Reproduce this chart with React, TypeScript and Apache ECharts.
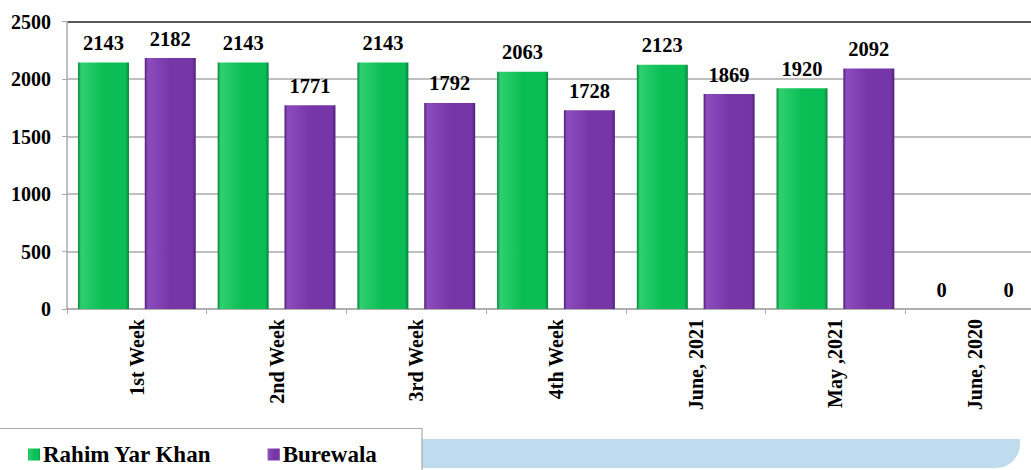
import React, { useEffect, useRef } from "react";
import * as echarts from "echarts";

const categories = ["1st Week", "2nd Week", "3rd Week", "4th Week", "June, 2021", "May ,2021", "June, 2020"];
const rahimYarKhan = [2143, 2143, 2143, 2063, 2123, 1920, 0];
const burewala = [2182, 1771, 1792, 1728, 1869, 2092, 0];
const seriesNames = ["Rahim Yar Khan", "Burewala"];

const FONT = "Liberation Serif";

function barGradient(dark: string, main: string, light: string) {
  return new echarts.graphic.LinearGradient(0, 0, 1, 0, [
    { offset: 0, color: dark },
    { offset: 0.06, color: light },
    { offset: 0.5, color: main },
    { offset: 0.93, color: main },
    { offset: 1, color: dark },
  ]);
}

export default function App() {
  const ref = useRef<HTMLDivElement>(null);
  useEffect(() => {
    document.body.style.margin = "0";
    document.body.style.overflow = "hidden";
    const chart = echarts.init(ref.current!, null, { renderer: "svg" });
    const labelCfg = {
      show: true,
      position: "top",
      distance: 9,
      fontFamily: FONT,
      fontWeight: "bold",
      fontSize: 20.5,
      color: "#000",
    };
    chart.setOption({
      animation: false,
      backgroundColor: "#fff",
      textStyle: { fontFamily: FONT },
      grid: { left: 67, right: -14, top: 21.5, bottom: 161, containLabel: false, outerBoundsMode: "none" },
      legend: {
        left: 28,
        top: 443,
        padding: 0,
        itemWidth: 12,
        itemHeight: 12,
        itemGap: 56,
        icon: "rect",
        textStyle: { fontFamily: FONT, fontWeight: "bold", fontSize: 23, color: "#000", padding: [0, 0, 0, -2] },
        data: seriesNames,
      },
      xAxis: {
        type: "category",
        data: categories,
        axisLine: { show: true, lineStyle: { color: "#aaa", width: 1.5 } },
        axisTick: { show: true, length: 5, lineStyle: { color: "#aaa" } },
        axisLabel: {
          rotate: 90,
          margin: 10,
          fontFamily: FONT,
          fontWeight: "bold",
          fontSize: 20,
          color: "#000",
          interval: 0,
        },
      },
      yAxis: {
        type: "value",
        min: 0,
        max: 2500,
        interval: 500,
        axisLine: { show: true, lineStyle: { color: "#aaa", width: 1.5 } },
        axisTick: { show: true, length: 5, lineStyle: { color: "#aaa" } },
        axisLabel: {
          margin: 16,
          fontFamily: FONT,
          fontWeight: "bold",
          fontSize: 20,
          color: "#000",
          formatter: (v: number) => String(v),
        },
        splitLine: {
          show: true,
          lineStyle: { color: ["#aaa", "#aaa", "#aaa", "#aaa", "#aaa", "#222"], width: 1.5 },
        },
      },
      series: [
        {
          name: seriesNames[0],
          type: "bar",
          data: rahimYarKhan,
          barWidth: 51,
          barGap: "31%",
          itemStyle: {
            color: barGradient("#07823c", "#0bbd55", "#2fd070"),
          },
          label: labelCfg,
        },
        {
          name: seriesNames[1],
          type: "bar",
          data: burewala,
          barWidth: 51,
          barGap: "31%",
          itemStyle: {
            color: barGradient("#4f2078", "#7736a8", "#8c4cbc"),
          },
          label: labelCfg,
        },
      ],
      graphic: [
        {
          type: "rect",
          z: -10,
          silent: true,
          shape: { x: 422, y: 439, width: 598, height: 29, r: [0, 0, 24, 0] },
          style: { fill: "#bfdcef" },
        },
        {
          type: "rect",
          z: -9,
          silent: true,
          shape: { x: -2, y: 428.5, width: 424, height: 50 },
          style: { fill: "#fff", stroke: "#aaa", lineWidth: 1.2 },
        },
      ],
    });
    return () => chart.dispose();
  }, []);
  return <div ref={ref} style={{ width: 1031, height: 470 }} />;
}
